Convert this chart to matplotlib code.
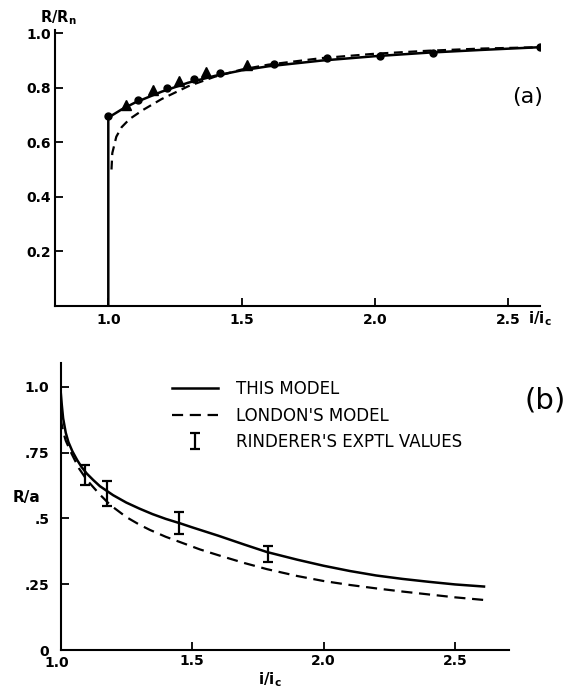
import matplotlib
matplotlib.use('Agg')
import matplotlib.pyplot as plt

plt.rcParams['font.family'] = 'DejaVu Sans'
plt.rcParams['font.size'] = 10

# ---- panel (a): R/Rn vs i/ic
a_solid_x = [1.0, 1.0, 1.05, 1.1, 1.2, 1.3, 1.4, 1.5, 1.6, 1.8, 2.0, 2.2, 2.4, 2.62]
a_solid_y = [0.0, 0.69, 0.72, 0.745, 0.785, 0.818, 0.843, 0.863, 0.878, 0.899, 0.915, 0.928, 0.938, 0.948]
a_dash_x = [1.012, 1.015, 1.03, 1.05, 1.08, 1.13, 1.2, 1.3, 1.4, 1.5, 1.6, 1.8, 2.0, 2.2, 2.4, 2.62]
a_dash_y = [0.50, 0.56, 0.62, 0.655, 0.685, 0.718, 0.758, 0.805, 0.84, 0.866, 0.884, 0.908, 0.924, 0.935, 0.943, 0.948]
a_circ_x = [1.0, 1.11, 1.22, 1.32, 1.42, 1.62, 1.82, 2.02, 2.22, 2.62]
a_circ_y = [0.695, 0.755, 0.80, 0.83, 0.855, 0.886, 0.908, 0.916, 0.927, 0.948]
a_tri_x = [1.065, 1.168, 1.265, 1.366, 1.519]
a_tri_y = [0.735, 0.79, 0.826, 0.856, 0.882]
a_xticks = [1.0, 1.5, 2.0, 2.5]
a_yticks = [0.2, 0.4, 0.6, 0.8, 1.0]

# ---- panel (b): R/a vs i/ic
b_solid_x = [1.0, 1.005, 1.01, 1.02, 1.03, 1.045, 1.063, 1.08, 1.1, 1.125, 1.15, 1.2, 1.25,
             1.3, 1.35, 1.4, 1.455, 1.5, 1.6, 1.7, 1.785, 1.9, 2.0, 2.1, 2.2, 2.3, 2.4, 2.5, 2.61]
b_solid_y = [0.99, 0.93, 0.88, 0.825, 0.79, 0.755, 0.722, 0.695, 0.67, 0.645, 0.622, 0.588, 0.56,
             0.537, 0.516, 0.498, 0.481, 0.466, 0.434, 0.4, 0.372, 0.343, 0.32, 0.3, 0.283, 0.27,
             0.259, 0.249, 0.241]
b_dash_x = [1.0, 1.01, 1.02, 1.04, 1.07, 1.1, 1.15, 1.19, 1.25, 1.3, 1.34, 1.4, 1.53, 1.6,
            1.7, 1.785, 1.9, 2.0, 2.1, 2.2, 2.3, 2.4, 2.5, 2.61]
b_dash_y = [0.88, 0.83, 0.795, 0.75, 0.69, 0.646, 0.59, 0.55, 0.505, 0.476, 0.456, 0.43, 0.382,
            0.36, 0.33, 0.307, 0.281, 0.262, 0.247, 0.234, 0.222, 0.211, 0.2, 0.19]
b_err_x = [1.093, 1.177, 1.45, 1.79]
b_err_y = [0.665, 0.595, 0.483, 0.365]
b_err = [0.038, 0.048, 0.043, 0.03]
b_xticks = [1.5, 2.0, 2.5]
b_xticklabels = ['1.5', '2.0', '2.5']
b_yticks = [0, 0.25, 0.5, 0.75, 1.0]
b_yticklabels = ['0', '.25', '.5', '.75', '1.0']

fig = plt.figure(figsize=(5.7, 6.9), dpi=100)
W, H = 570.0, 690.0

def setup(ax):
    ax.spines['top'].set_visible(False)
    ax.spines['right'].set_visible(False)
    for s in ['left', 'bottom']:
        ax.spines[s].set_linewidth(1.5)
    ax.tick_params(direction='in', length=6, width=1.3)
    for lab in ax.get_xticklabels() + ax.get_yticklabels():
        lab.set_fontweight('bold')

# panel (a)
axa = fig.add_axes([55 / W, 1 - 306 / H, (540 - 55) / W, 276 / H])
axa.plot(a_solid_x, a_solid_y, color='k', lw=1.8)
axa.plot(a_dash_x, a_dash_y, color='k', lw=1.6, ls=(0, (4, 2.5)))
axa.plot(a_circ_x, a_circ_y, 'o', color='k', ms=5)
axa.plot(a_tri_x, a_tri_y, '^', color='k', ms=7)
axa.set_xlim(0.8, 2.62)
axa.set_ylim(0, 1.011)
axa.set_xticks(a_xticks)
axa.set_yticks(a_yticks)
axa.tick_params(axis='y', pad=3)
axa.tick_params(axis='x', pad=5)
setup(axa)
axa.text(0.006, 1.045, r'R/R$_\mathregular{n}$', transform=axa.transAxes,
         ha='center', va='center', fontsize=10.5, fontweight='bold')
axa.text(0.975, -0.047, r'i/i$_\mathregular{c}$', transform=axa.transAxes,
         ha='left', va='center', fontsize=11, fontweight='bold')
axa.text(0.975, 0.757, '(a)', transform=axa.transAxes, ha='center', va='center',
         fontsize=16)

# panel (b)
axb = fig.add_axes([60.5 / W, 1 - 650 / H, (509 - 60.5) / W, 287 / H])
l1, = axb.plot(b_solid_x, b_solid_y, color='k', lw=1.8)
l2, = axb.plot(b_dash_x, b_dash_y, color='k', lw=1.6, ls=(0, (5, 3)))
eb = axb.errorbar(b_err_x, b_err_y, yerr=b_err, fmt='none', ecolor='k',
                  elinewidth=1.6, capsize=3.5, capthick=1.6)
axb.set_xlim(1.0, 2.705)
axb.set_ylim(0, 1.09)
axb.set_xticks(b_xticks)
axb.set_xticklabels(b_xticklabels)
axb.set_yticks(b_yticks)
axb.set_yticklabels(b_yticklabels)
axb.tick_params(axis='y', pad=8)
axb.tick_params(axis='x', pad=3)
setup(axb)
axb.text(-0.008, -0.045, '1.0', transform=axb.transAxes, ha='center', va='center',
         fontsize=10, fontweight='bold')
axb.text(-0.075, 0.533, 'R/a', transform=axb.transAxes, ha='center', va='center',
         fontsize=11, fontweight='bold')
axb.text(0.467, -0.105, r'i/i$_\mathregular{c}$', transform=axb.transAxes,
         ha='center', va='center', fontsize=11, fontweight='bold')
axb.text(1.08, 0.871, '(b)', transform=axb.transAxes, ha='center', va='center',
         fontsize=21)
axb.legend([l1, l2, eb], ['THIS MODEL', "LONDON'S MODEL", "RINDERER'S EXPTL VALUES"],
           loc='upper left', bbox_to_anchor=(0.2486, 0.94), frameon=False,
           borderpad=0, borderaxespad=0, handlelength=2.75, handletextpad=1.08,
           labelspacing=0.5, prop={'size': 12})

fig.savefig('out.png', dpi=100)
